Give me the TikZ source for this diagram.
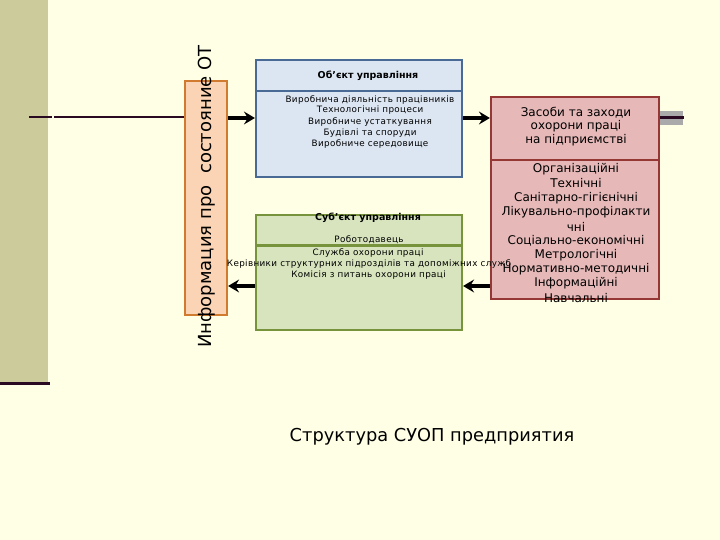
\documentclass[tikz,border=0pt]{standalone}
\usepackage{fontspec}
\setmainfont{DejaVu Sans}
\usetikzlibrary{arrows.meta}
\definecolor{bg}{HTML}{FFFFE5}
\definecolor{stripe}{HTML}{CBCB9C}
\definecolor{dk}{HTML}{2A0A22}
\definecolor{orfill}{HTML}{FAD4B4}
\definecolor{orbd}{HTML}{D17B30}
\definecolor{blfill}{HTML}{DCE6F2}
\definecolor{blbd}{HTML}{4A6A96}
\definecolor{grfill}{HTML}{D7E4BD}
\definecolor{grbd}{HTML}{77933C}
\definecolor{rdfill}{HTML}{E6B9B8}
\definecolor{rdbd}{HTML}{953735}
\definecolor{gbar}{HTML}{AAAAAA}
\begin{document}
\begin{tikzpicture}[x=1pt,y=-1pt,
  box/.style={draw, line width=2.2pt, inner sep=0pt},
  divider/.style={line width=2.2pt},
  arr/.style={line width=3.2pt, -{Stealth[length=11pt,width=13pt,inset=4pt]}},
  small/.style={inner sep=0pt, font=\fontsize{8.8}{10}\selectfont\addfontfeature{LetterSpace=4}},
  smallb/.style={inner sep=0pt, font=\fontsize{9.5}{11}\selectfont\bfseries},
  redtxt/.style={inner sep=0pt, font=\fontsize{12}{14}\selectfont},
  dkline/.style={draw=dk, line width=2pt}]
\path[use as bounding box, fill=bg] (0,0) rectangle (720,540);
% left stripe
\fill[stripe] (0,0) rectangle (48,382);
\coordinate (b1) at (0,383.5);
\coordinate (b2) at (50,383.5);
\draw[dk, line width=3pt] (b1) -- (b2);
% boxes
\node[box, draw=orbd, fill=orfill, minimum width=42pt, minimum height=234pt] (info) at (206,198) {};
\node[box, draw=blbd, fill=blfill, minimum width=206pt, minimum height=117pt] (obj) at (359,118.5) {};
\node[box, draw=grbd, fill=grfill, minimum width=206pt, minimum height=115pt] (subj) at (359,272.5) {};
\node[box, draw=rdbd, fill=rdfill, minimum width=168pt, minimum height=202pt] (means) at (575,198) {};
% dividers
\draw[divider, blbd] (obj.west |- 0,91) -- (obj.east |- 0,91);
\draw[divider, grbd] (subj.west |- 0,245.5) -- (subj.east |- 0,245.5);
\draw[divider, rdbd] (means.west |- 0,160) -- (means.east |- 0,160);
% left line into orange box
\coordinate (l1) at (29,117.5);
\coordinate (l2) at (52,117.5);
\coordinate (l3) at (54,117.5);
\draw[dkline] (l1) -- (l2);
\draw[dkline] (l3) -- (info.west |- l3);
% right gray bar
\node[fill=gbar, minimum width=23pt, minimum height=14pt, inner sep=0pt] (gb) at (671.5,118) {};
\coordinate (r2) at (684,117.5);
\draw[dk, line width=3pt] (gb.west |- r2) -- (r2);
% rotated text
\node[rotate=90, inner sep=0pt, font=\fontsize{18}{21}\selectfont] (infotxt) at (207,196.5) {Информация про\ \ состояние ОТ};
% blue box text
\node[smallb] (objh) at (368,76) {Об'єкт управління};
\node[small] (o1) at (370,99.5) {Виробнича діяльність працівників};
\node[small] (o2) at (370,110.5) {Технологічні процеси};
\node[small] (o3) at (370,122) {Виробниче устаткування};
\node[small] (o4) at (370,133) {Будівлі та споруди};
\node[small] (o5) at (370,144) {Виробниче середовище};
% green box text
\node[smallb] (subjh) at (368,218) {Суб'єкт управління};
\node[small] (s0) at (369,239.5) {Роботодавець};
\node[small] (s1) at (368,252.5) {Служба охорони праці};
\node[small] (s2) at (369,264) {Керівники структурних підрозділів та допоміжних служб};
\node[small] (s3) at (368.5,275.5) {Комісія з питань охорони праці};
% red box text
\node[redtxt] (m1) at (576,112.5) {Засоби та заходи};
\node[redtxt] (m2) at (576,126.5) {охорони праці};
\node[redtxt] (m3) at (576,140.5) {на підприємстві};
\node[redtxt] (r1) at (576,169) {Організаційні};
\node[redtxt] (r2t) at (576,183.5) {Технічні};
\node[redtxt] (r3) at (576,198) {Санітарно-гігієнічні};
\node[redtxt] (r4) at (576,212.5) {Лікувально-профілакти};
\node[redtxt] (r5) at (576,227) {чні};
\node[redtxt] (r6) at (576,241) {Соціально-економічні};
\node[redtxt] (r7) at (576,255.5) {Метрологічні};
\node[redtxt] (r8) at (576,269.5) {Нормативно-методичні};
\node[redtxt] (r9) at (576,283.5) {Інформаційні};
\node[redtxt] (r10) at (576,298) {Навчальні};
% arrows
\draw[arr] (info.east |- 0,118) -- (obj.west |- 0,118);
\draw[arr] (obj.east |- 0,118) -- (means.west |- 0,118);
\draw[arr] (means.west |- 0,286) -- (subj.east |- 0,286);
\draw[arr] (subj.west |- 0,286) -- (info.east |- 0,286);
% title
\node[inner sep=0pt, font=\fontsize{17.8}{21}\selectfont] (title) at (432,437) {Структура СУОП предприятия};
\end{tikzpicture}
\end{document}
